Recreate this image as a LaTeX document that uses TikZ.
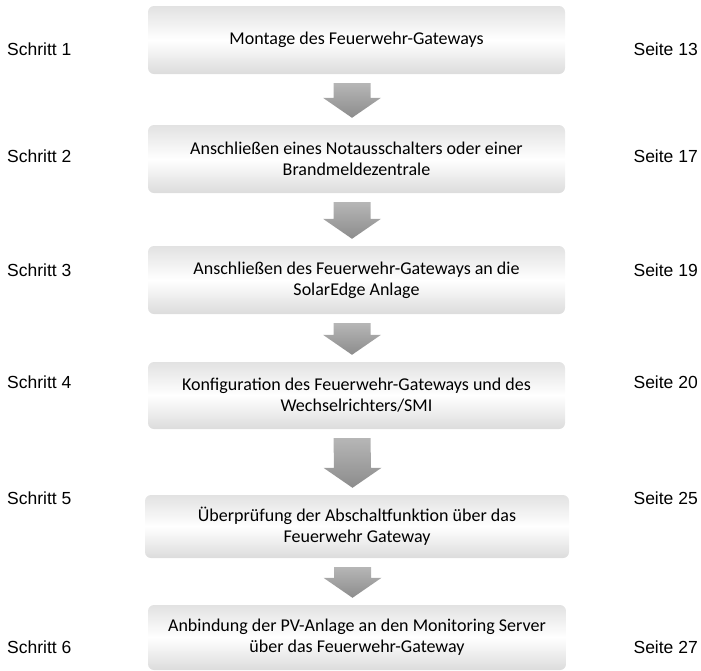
\documentclass[tikz,border=0pt]{standalone}
\usepackage{fontspec}
\setmainfont{Liberation Sans}
\newfontfamily\boxfont{Carlito}
\usepackage{tikz}
\usetikzlibrary{
        calc,
        positioning,
        shapes
    }
\definecolor{boxtop}{HTML}{E2E2E2}
\definecolor{boxbottom}{HTML}{DCDCDC}
\definecolor{arrowtop}{HTML}{B6B6B6}
\definecolor{arrowbottom}{HTML}{8C8C8C}
\tikzset{
    stepbox/.style={rectangle,rounded corners=6pt,inner sep=0pt,
        minimum width=417pt,minimum height=68pt,align=center,
        top color=boxtop,bottom color=boxbottom,middle color=white,
        font=\boxfont\fontsize{18}{21}\selectfont},
    steplabel/.style={anchor=west,inner sep=0pt,font=\fontsize{17.5}{20}\selectfont},
    pagelabel/.style={anchor=east,inner sep=0pt,font=\fontsize{17.5}{20}\selectfont},
    flowarrow/.style={top color=arrowtop,bottom color=arrowbottom,draw=none}
}

\begin{document}
\begin{tikzpicture}[x=1pt,y=-1pt]
    \useasboundingbox (0,0) rectangle (701,670);
    \node[stepbox] (b1) at (356.5,40) {Montage des Feuerwehr-Gateways};
    \node[stepbox] (b2) at (356.5,159) {Anschließen eines Notausschalters oder einer\\Brandmeldezentrale};
    \node[stepbox] (b3) at (356.5,280) {Anschließen des Feuerwehr-Gateways an die\\SolarEdge Anlage};
    \node[stepbox,minimum height=67pt] (b4) at (356.5,395.5) {Konfiguration des Feuerwehr-Gateways und des\\Wechselrichters/SMI};
    \node[stepbox,minimum width=424pt,minimum height=63pt] (b5) at (357,526.5) {Überprüfung der Abschaltfunktion über das\\Feuerwehr Gateway};
    \node[stepbox,minimum width=418pt,minimum height=65pt] (b6) at (357,637.5) {Anbindung der PV-Anlage an den Monitoring Server\\über das Feuerwehr-Gateway};

    \node[steplabel] (s1) at (7,49) {Schritt 1};
    \node[steplabel] (s2) at (7,156) {Schritt 2};
    \node[steplabel] (s3) at (7,270) {Schritt 3};
    \node[steplabel] (s4) at (7,382) {Schritt 4};
    \node[steplabel] (s5) at (7,498) {Schritt 5};
    \node[steplabel] (s6) at (7,647) {Schritt 6};

    \node[pagelabel] (p1) at (698,49) {Seite 13};
    \node[pagelabel] (p2) at (698,156) {Seite 17};
    \node[pagelabel] (p3) at (698,270) {Seite 19};
    \node[pagelabel] (p4) at (698,382) {Seite 20};
    \node[pagelabel] (p5) at (698,498) {Seite 25};
    \node[pagelabel] (p6) at (698,647) {Seite 27};

    \foreach \a/\b in {b1/b2,b2/b3,b3/b4,b4/b5,b5/b6}{
        \coordinate (t) at ($(\a.south)+(-4.5,9)$);
        \coordinate (p) at ($(\b.north)+(-4.5,-7)$);
        \path[flowarrow] ($(t)+(-18.5,0)$) -- ($(t)+(18.5,0)$) -- ($(p)+(18.5,-20)$)
            -- ($(p)+(29,-20)$) -- (p) -- ($(p)+(-29,-20)$) -- ($(p)+(-18.5,-20)$) -- cycle;
    }
\end{tikzpicture}
\end{document}
